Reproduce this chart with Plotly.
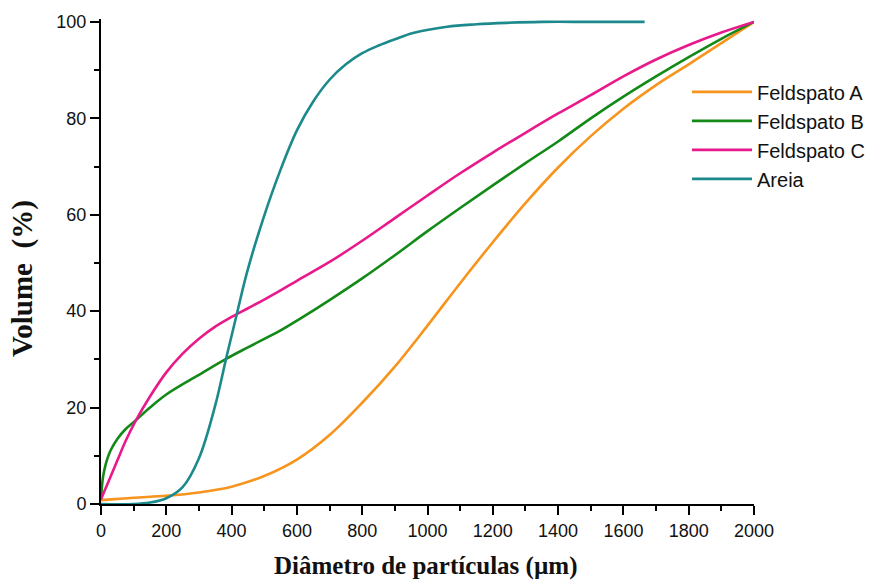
import plotly.graph_objects as go

# Feldspato A
xa = [0, 100, 200, 300, 400, 500, 600, 700, 800, 900, 1000, 1100, 1200, 1300, 1400, 1500, 1600, 1700, 1800, 1900, 2000]
ya = [0.8, 1.3, 1.7, 2.4, 3.6, 5.8, 9.2, 14.3, 21, 28.5, 37, 45.8, 54.3, 62.4, 69.8, 76.3, 82, 86.9, 91.2, 95.6, 100]

# Feldspato B
xb = [0, 5, 10, 20, 30, 50, 75, 104, 150, 200, 272, 300, 383, 450, 550, 609, 700, 800, 900, 1000, 1100, 1200, 1300, 1400, 1500, 1600, 1700, 1800, 1900, 2000]
yb = [1, 5, 7, 9.5, 11.2, 13.5, 15.5, 17.2, 20, 22.7, 25.7, 26.8, 30.1, 32.5, 36, 38.4, 42.3, 46.8, 51.6, 56.6, 61.4, 66.1, 70.7, 75.2, 80, 84.5, 88.7, 92.7, 96.5, 100]

# Feldspato C
xc = [0, 25, 50, 75, 104, 150, 200, 250, 300, 350, 400, 450, 500, 550, 600, 700, 800, 900, 1000, 1100, 1200, 1300, 1400, 1500, 1600, 1700, 1800, 1900, 2000]
yc = [1, 5, 9, 13, 17, 22.3, 27.3, 31.2, 34.3, 36.8, 38.8, 40.6, 42.4, 44.3, 46.3, 50.2, 54.6, 59.3, 64, 68.6, 72.9, 77, 81, 84.8, 88.7, 92.2, 95.2, 97.8, 100]

# Areia
xd = [0, 100, 150, 200, 250, 300, 350, 383, 416, 447, 496, 548, 600, 650, 700, 750, 800, 850, 900, 956, 1060, 1150, 1243, 1350, 1500, 1665]
yd = [0, 0, 0.3, 1.2, 3.5, 9.5, 20.5, 30.1, 39.4, 48, 59, 69, 77.5, 83.5, 88, 91.2, 93.5, 95.1, 96.4, 97.7, 99, 99.5, 99.8, 100, 100, 100]

names = ["Feldspato A", "Feldspato B", "Feldspato C", "Areia"]
colors = ["#F7941D", "#138A17", "#E8198B", "#1C8A8C"]

fig = go.Figure()
for (x, y, n, c) in zip([xa, xb, xc, xd], [ya, yb, yc, yd], names, colors):
    fig.add_trace(go.Scatter(x=x, y=y, name=n, mode="lines",
                             line=dict(color=c, width=2.6, shape="spline", smoothing=1.0)))

axis_common = dict(
    showline=True, linecolor="black", linewidth=2,
    ticks="outside", ticklen=9, tickwidth=2, tickcolor="black",
    showgrid=False, zeroline=False,
    tickfont=dict(family="Liberation Sans, Arial", size=18, color="#111"),
)
fig.update_xaxes(range=[0, 2000], tickvals=list(range(0, 2001, 200)),
                 minor=dict(ticks="outside", ticklen=5, tickwidth=2, tickcolor="black", dtick=100, tick0=0),
                 **axis_common)
fig.update_yaxes(range=[0, 100.6], tickvals=list(range(0, 101, 20)),
                 minor=dict(ticks="outside", ticklen=5, tickwidth=2, tickcolor="black", dtick=10, tick0=0),
                 **axis_common)

fig.update_layout(
    width=885, height=585,
    margin=dict(l=101, r=131, t=19, b=81, autoexpand=False),
    paper_bgcolor="white", plot_bgcolor="white",
    legend=dict(x=0.8974, y=0.89, xanchor="left", yanchor="top",
                font=dict(family="Liberation Sans, Arial", size=20, color="#111"),
                bgcolor="rgba(0,0,0,0)", itemwidth=60, tracegroupgap=0),
    annotations=[
        dict(text="<b>Diâmetro de partículas (µm)</b>", xref="paper", yref="paper",
             x=(425 - 101) / 653, y=-(566 - 504) / 485, xanchor="center", yanchor="middle", showarrow=False,
             font=dict(family="Liberation Serif, Times New Roman", size=25, color="#111")),
        dict(text="<b>Volume&nbsp;&nbsp;(%)</b>", xref="paper", yref="paper",
             x=-(101 - 22) / 653, y=(504 - 279) / 485, xanchor="center", yanchor="middle", showarrow=False, textangle=-90,
             font=dict(family="Liberation Serif, Times New Roman", size=29, color="#111")),
    ],
)

fig.write_html("out.html")
